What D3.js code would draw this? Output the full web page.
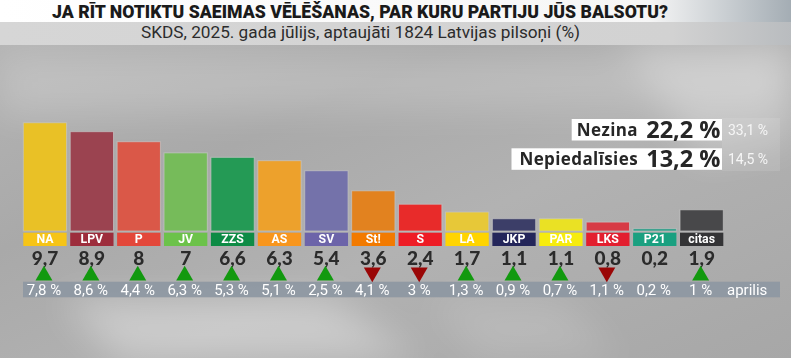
<!DOCTYPE html>
<html><head><meta charset="utf-8">
<script src="https://cdn.jsdelivr.net/npm/d3@7"></script>
<style>html,body{margin:0;padding:0;overflow:hidden;background:#aaa}svg{display:block}</style>
</head><body><svg id="c" width="791" height="358"></svg>
<script>
const title = "JA RĪT NOTIKTU SAEIMAS VĒLĒŠANAS, PAR KURU PARTIJU JŪS BALSOTU?";
const subtitle = "SKDS, 2025. gada jūlijs, aptaujāti 1824 Latvijas pilsoņi (%)";
const parties = ["NA","LPV","P","JV","ZZS","AS","SV","St!","S","LA","JKP","PAR","LKS","P21","citas"];
const julyValues = [9.7,8.9,8,7,6.6,6.3,5.4,3.6,2.4,1.7,1.1,1.1,0.8,0.2,1.9];
const aprilValues = [7.8,8.6,4.4,6.3,5.3,5.1,2.5,4.1,3,1.3,0.9,0.7,1.1,0.2,1];
const prevLabel = "aprilis";
const barColors = ["#e9c126","#9b4350","#da5848","#76bb5a","#249a55","#eda12c","#7472aa","#e2821f","#e82b2a","#e7c838","#3c3e68","#eae124","#d73a45","#1f9b83","#48484a"];
const tagColors = ["#f6c417","#9d2d3c","#e3473a","#6cc24a","#0d8b45","#f8961d","#6c64a9","#f27a00","#ee1c25","#ffd400","#24265a","#f7ec0d","#e31f2f","#1aa080","#343436"];
const sideLabels = ["Nezina","Nepiedalīsies"];
const sideValues = [22.2,13.2];
const sidePrev = [33.1,14.5];

const fmt = v => String(v).replace(".", ",");
const svg = d3.select("#c");
const defs = svg.append("defs");

// background
const bg = defs.append("linearGradient").attr("id","bg").attr("x1",0).attr("y1",0).attr("x2",1).attr("y2",1);
[["0%","#b6b6b6"],["35%","#a9a9a9"],["60%","#b2b2b2"],["100%","#a7a7a7"]].forEach(s=>bg.append("stop").attr("offset",s[0]).attr("stop-color",s[1]));
svg.append("rect").attr("width",791).attr("height",358).attr("fill","url(#bg)");
defs.append("filter").attr("id","blur").append("feGaussianBlur").attr("stdDeviation",18);
const streaks = svg.append("g").attr("filter","url(#blur)").attr("fill","#ffffff");
streaks.append("path").attr("d","M0,55 L791,55 L791,105 L0,115 Z").attr("opacity",0.2);
streaks.append("path").attr("d","M60,300 L330,300 L420,358 L120,358 Z").attr("opacity",0.35);
streaks.append("path").attr("d","M620,40 L791,40 L791,140 L700,160 Z").attr("opacity",0.25);
streaks.append("path").attr("d","M430,300 L560,300 L620,358 L480,358 Z").attr("opacity",0.15);

// title bands
const tg = defs.append("linearGradient").attr("id","tg");
[["0%","#ffffff"],["82%","#f6f6f6"],["100%","#a4adb4"]].forEach(s=>tg.append("stop").attr("offset",s[0]).attr("stop-color",s[1]));
svg.append("rect").attr("x",0).attr("y",0).attr("width",791).attr("height",22).attr("fill","url(#tg)");
const sg = defs.append("linearGradient").attr("id","sg");
[["0%","#d6d6d6"],["85%","#d2d2d2"],["100%","#b9bcbf"]].forEach(s=>sg.append("stop").attr("offset",s[0]).attr("stop-color",s[1]));
svg.append("rect").attr("x",0).attr("y",22).attr("width",791).attr("height",23).attr("fill","url(#sg)");
svg.append("text").attr("x",360).attr("y",17.5).attr("text-anchor","middle")
  .attr("font-family","Roboto, 'Open Sans', sans-serif").attr("font-weight",900).attr("font-size",18)
  .attr("textLength",616).attr("lengthAdjust","spacingAndGlyphs").attr("fill","#1a1a1a").text(title);
svg.append("text").attr("x",360.5).attr("y",37.5).attr("text-anchor","middle")
  .attr("font-family","Roboto, 'Open Sans', sans-serif").attr("font-weight",400).attr("font-size",16)
  .attr("textLength",439).attr("lengthAdjust","spacingAndGlyphs").attr("fill","#2c2c2c").text(subtitle);

// scales
const x = d3.scaleBand().domain(parties).range([23.3, 723.3]).paddingInner(0.077).paddingOuter(0);
const y = d3.scaleLinear().domain([0, 10]).range([231, 119.4]);
const bw = x.bandwidth();

// previous-value band
svg.append("rect").attr("x",23).attr("y",281.7).attr("width",757).attr("height",15.6).attr("fill","#8e98a2").attr("opacity",0.95);

// bars
svg.append("g").selectAll("rect").data(parties).join("rect")
  .attr("x",d=>x(d)).attr("y",(d,i)=>y(julyValues[i])).attr("width",bw)
  .attr("height",(d,i)=>y(0)-y(julyValues[i])).attr("fill",(d,i)=>barColors[i])
  .attr("stroke","#c4c4c4").attr("stroke-opacity",0.7).attr("stroke-width",1);

// tags
const tags = svg.append("g");
tags.selectAll("rect").data(parties).join("rect")
  .attr("x",d=>x(d)).attr("y",y(0)+1.7).attr("width",bw).attr("height",13.3).attr("fill",(d,i)=>tagColors[i]);
tags.selectAll("text").data(parties).join("text")
  .attr("x",d=>x(d)+bw/2).attr("y",243).attr("text-anchor","middle")
  .attr("font-family","Roboto, sans-serif").attr("font-weight",700).attr("font-size",12.3)
  .attr("fill","#ffffff").text(d=>d);

// values
svg.append("g").selectAll("text").data(parties).join("text")
  .attr("x",d=>x(d)+bw/2).attr("y",264.8).attr("text-anchor","middle")
  .attr("font-family","Lato, sans-serif").attr("font-weight",900).attr("font-size",19)
  .attr("fill","#2b2b2b").text((d,i)=>fmt(julyValues[i]));

// arrows
const tri = d3.symbol().type(d3.symbolTriangle).size(125);
svg.append("g").selectAll("path").data(parties.filter((d,i)=>julyValues[i]!==aprilValues[i])).join("path")
  .attr("d",tri)
  .attr("transform",d=>{const i=parties.indexOf(d);const up=julyValues[i]>aprilValues[i];
     return `translate(${x(d)+bw/2-1},${up?275.5:272.5}) rotate(${up?0:180})`;})
  .attr("fill",d=>{const i=parties.indexOf(d);return julyValues[i]>aprilValues[i]?"#12990f":"#9a0606";});

// previous values
svg.append("g").selectAll("text").data(parties).join("text")
  .attr("x",d=>x(d)+bw/2-1).attr("y",294.5).attr("text-anchor","middle")
  .attr("font-family","Roboto, sans-serif").attr("font-weight",400).attr("font-size",15)
  .attr("fill","#ffffff").text((d,i)=>fmt(aprilValues[i])+" %");
svg.append("text").attr("x",727).attr("y",294.5).attr("font-family","Roboto, sans-serif")
  .attr("font-size",15).attr("fill","#ffffff").text(prevLabel);

// side boxes
svg.append("rect").attr("x",722).attr("y",118).attr("width",58).attr("height",53).attr("fill","#ffffff").attr("opacity",0.1);
const sideY = [119,148.3];
const sideX = [571.7,511.5];
sideLabels.forEach((lab,i)=>{
  svg.append("rect").attr("x",sideX[i]).attr("y",sideY[i]).attr("width",722-sideX[i]).attr("height",21.5).attr("fill","#ffffff");
  svg.append("text").attr("x",638).attr("y",sideY[i]+16.5).attr("text-anchor","end")
    .attr("font-family","'Open Sans', sans-serif").attr("font-weight",700).attr("font-size",17).attr("letter-spacing",0.4)
    .attr("fill","#262626").text(lab);
  svg.append("text").attr("x",720.5).attr("y",sideY[i]+18.5).attr("text-anchor","end")
    .attr("font-family","'Open Sans', sans-serif").attr("font-weight",700).attr("font-size",23.5).attr("fill","#262626")
    .text(fmt(sideValues[i])+"\u00a0%");
  svg.append("text").attr("x",728).attr("y",sideY[i]+16)
    .attr("font-family","Roboto, sans-serif").attr("font-size",14).attr("fill","#f6f6f6").text(fmt(sidePrev[i])+" %");
});
</script></body></html>
